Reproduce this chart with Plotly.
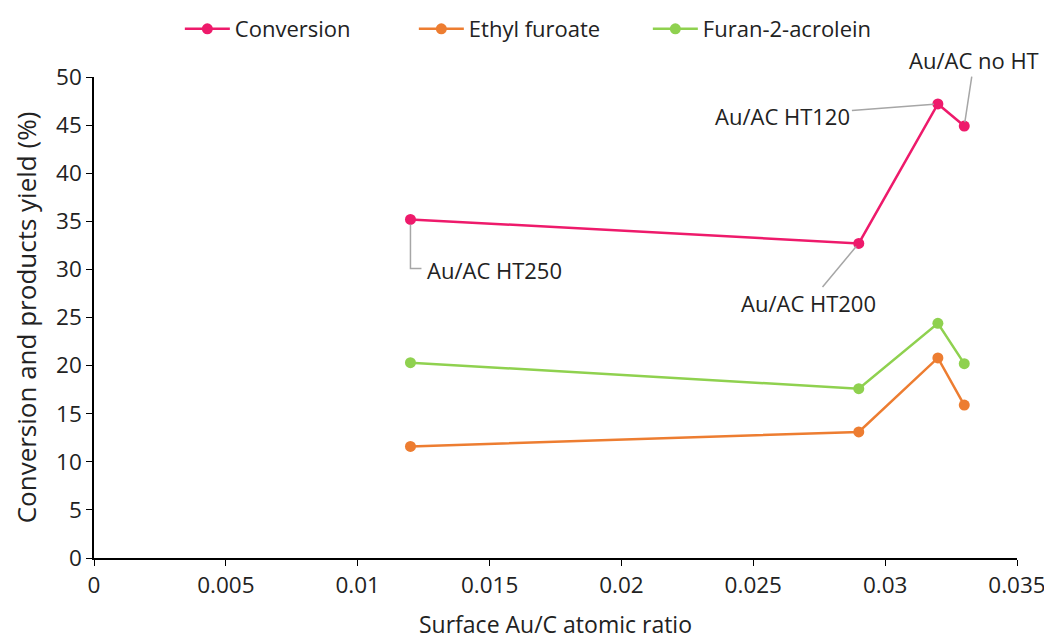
import plotly.graph_objects as go

x_ratio = [0.012, 0.029, 0.032, 0.033]
conversion = [35.2, 32.7, 47.2, 44.9]
ethyl_furoate = [11.6, 13.1, 20.8, 15.9]
furan_acrolein = [20.3, 17.6, 24.4, 20.2]
labels = ["Au/AC HT250", "Au/AC HT200", "Au/AC HT120", "Au/AC no HT"]

FONT = "Open Sans"
fig = go.Figure()
series = [("Conversion", conversion, "#EE1A6B"),
          ("Ethyl furoate", ethyl_furoate, "#ED7D31"),
          ("Furan-2-acrolein", furan_acrolein, "#8FD14F")]
for name, vals, col in series:
    fig.add_trace(go.Scatter(x=x_ratio, y=vals, name=name, mode="lines+markers",
                             line=dict(color=col, width=2.5),
                             marker=dict(color=col, size=11)))

# label offsets (pixels): text position relative to point
offs = [(84, 51), (-50, 60), (-155, 12), (10, -66)]
for i, lab in enumerate(labels):
    ax, ay = offs[i]
    if i == 0:
        fig.add_annotation(x=x_ratio[i], y=conversion[i], text=lab, showarrow=False,
                           xshift=ax, yshift=-ay, font=dict(family=FONT, size=22, color="#222"))
        fig.add_shape(type="path", xref="x", yref="y", xsizemode="pixel", ysizemode="pixel",
                      xanchor=x_ratio[i], yanchor=conversion[i],
                      path="M 0,-5 L 0,-49 L 11,-49", line=dict(color="#A6A6A6", width=1.5))
    else:
        fig.add_annotation(x=x_ratio[i], y=conversion[i], text=lab, showarrow=True,
                           ax=ax, ay=ay, arrowhead=0, arrowwidth=1.5, arrowcolor="#A6A6A6",
                           standoff=4, font=dict(family=FONT, size=22, color="#222"))

fig.update_layout(
    width=1052, height=644, plot_bgcolor="white", paper_bgcolor="white",
    margin=dict(l=86, r=43, t=69, b=94, autoexpand=False),
    font=dict(family=FONT, size=22, color="#222"),
    legend=dict(orientation="h", x=0.093, xanchor="left", y=1.0, yref="container",
                yanchor="top", font=dict(family=FONT, size=22), itemwidth=45,
                entrywidth=174, bgcolor="rgba(0,0,0,0)"),
)
fig.update_xaxes(range=[0, 0.035], tickvals=[0, 0.005, 0.01, 0.015, 0.02, 0.025, 0.03, 0.035],
                 ticktext=["0", "0.005", "0.01", "0.015", "0.02", "0.025", "0.03", "0.035"],
                 showline=True, linecolor="black", linewidth=1.5, ticks="outside",
                 tickcolor="black", ticklen=6, showgrid=False, zeroline=False, automargin=False,
                 title=dict(text="Surface Au/C atomic ratio", font=dict(size=23), standoff=18),
                 tickfont=dict(size=22.5))
fig.update_yaxes(range=[0, 50], dtick=5, showline=True, linecolor="black", linewidth=1.5,
                 ticks="outside", tickcolor="black", ticklen=6, showgrid=False, zeroline=False,
                 automargin=False,
                 title=dict(text="Conversion and products yield (%)", font=dict(size=26), standoff=12),
                 tickfont=dict(size=22.5))
fig.write_html("out.html")
